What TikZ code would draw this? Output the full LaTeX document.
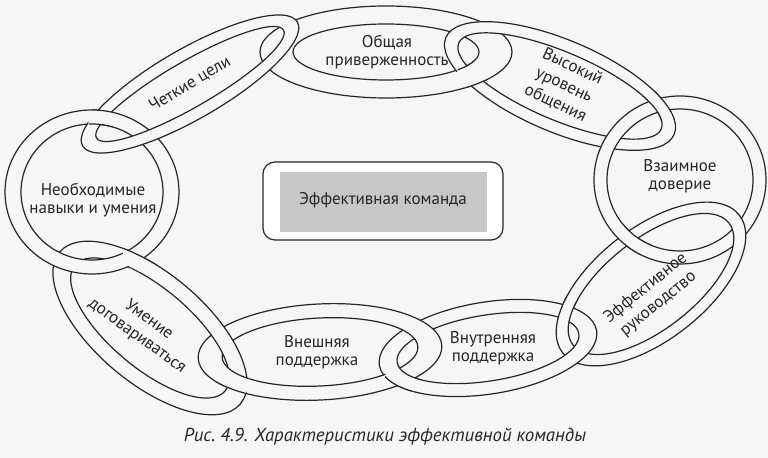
\documentclass[tikz,border=0pt]{standalone}
\usepackage{fontspec}
\setmainfont{PT Sans}

\definecolor{paper}{gray}{0.965}
\tikzset{
  ring/.style={draw=black!85, line width=0.6pt, fill=paper, even odd rule},
  linktext/.style={font=\fontsize{8.5}{9.3}\selectfont, align=center, text=black!85, inner sep=0pt},
  tilted/.style={linktext, font=\fontsize{8.5}{10}\selectfont, rotate=#1},
}
% one link of the chain: centre, outer radii, inner radii, angle
\newcommand{\chainlink}[7]{%
  \path[ring] (#1,#2) ellipse[x radius=#3, y radius=#4, rotate=#7]
              (#1,#2) ellipse[x radius=#5, y radius=#6, rotate=#7];}
% put a link back on top inside a small circle
\newcommand{\linkover}[4]{\begin{scope}\clip (#1,#2) circle[radius=#3]; #4\end{scope}}
\newcommand{\ringA}{\chainlink{386}{-52}{126}{46}{93}{28}{0}}
\newcommand{\ringI}{\chainlink{560}{-86}{124}{46}{110}{34}{-23}}
\newcommand{\ringH}{\chainlink{680}{-180}{86}{84}{73}{71}{0}}
\newcommand{\ringG}{\chainlink{651}{-284}{112}{56}{99}{45}{38}}
\newcommand{\ringF}{\chainlink{488}{-348}{110}{46}{92}{33}{9}}
\newcommand{\ringE}{\chainlink{320}{-352}{122}{48}{98}{34}{3}}
\newcommand{\ringD}{\chainlink{150}{-328}{118}{55}{98}{40}{-40}}
\newcommand{\ringC}{\chainlink{92}{-192}{87}{82}{71}{68}{0}}
\newcommand{\ringB}{\chainlink{190}{-84}{124}{35}{108}{23}{30}}

\begin{document}
\begin{tikzpicture}[x=0.5pt, y=0.5pt]
  \fill[paper] (0,0) rectangle (768,-458);
  \useasboundingbox (0,0) rectangle (768,-458);

  % Chain of links
  \ringA \ringI \ringH \ringG \ringF \ringE \ringD \ringC \ringB
  % Interlocking
  \linkover{473}{-74}{16}{\ringA}
  \linkover{655}{-107}{17}{\ringI}
  \linkover{636}{-238}{18}{\ringH}
  \linkover{568}{-309}{15}{\ringG}
  \linkover{402}{-378}{17}{\ringF}
  \linkover{232}{-383}{17}{\ringE}
  \linkover{143}{-252}{20}{\ringD}
  \linkover{102}{-119}{14}{\ringC}

  % Link texts
  \node[linktext] (commit) at (387,-52) {Общая\\приверженность};
  \node[tilted=-25] (talk) at (564,-85) {Высокий\\уровень\\общения};
  \node[linktext] (trust) at (680,-176) {Взаимное\\доверие};
  \node[tilted=39] (lead) at (652,-296) {Эффективное\\руководство};
  \node[linktext] (inside) at (493,-348) {Внутренняя\\поддержка};
  \node[linktext] (outside) at (317,-352) {Внешняя\\поддержка};
  \node[tilted=-36] (agree) at (143,-328) {Умение\\договариваться};
  \node[linktext] (skills) at (93,-200) {Необходимые\\навыки и умения};
  \node[tilted=31] (goals) at (190,-84) {Четкие цели};

  % Team box
  \draw[black!85, fill=white, line width=0.6pt, rounded corners=6] (263,-162) rectangle (503,-240);
  \fill[black!22] (280,-172) rectangle (487,-232);
  \node[linktext] (team) at (383,-200) {Эффективная команда};

  % Caption
  \node[font=\fontsize{9.4}{11}\selectfont\itshape, text=black!85, inner sep=0pt]
    (caption) at (385,-437) {Рис.~4.9. Характеристики эффективной команды};

\end{tikzpicture}
\end{document}
